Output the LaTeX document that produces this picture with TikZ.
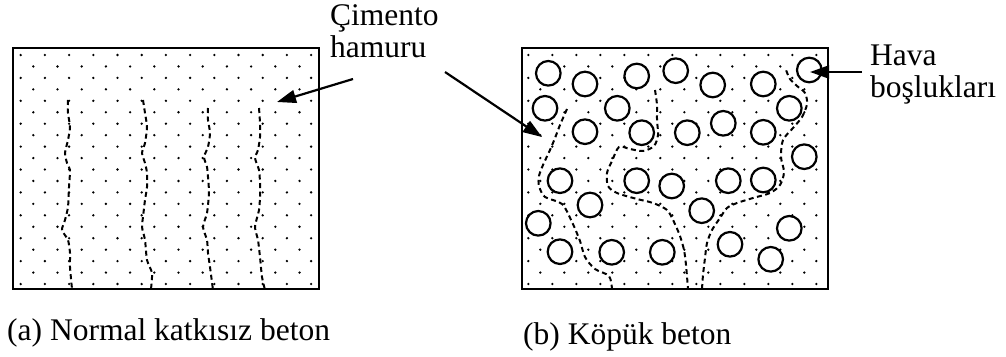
\documentclass[tikz,border=0pt]{standalone}
\usepackage{fontspec}
\setmainfont{Liberation Serif}
\usetikzlibrary{arrows.meta}
\begin{document}
\begin{tikzpicture}[x=1pt,y=-1pt,
  panel/.style={line width=2.8pt},
  void/.style={draw, line width=2.2pt, fill=white},
  crack/.style={dash pattern=on 5pt off 3.5pt, line width=2pt},
  pointer/.style={-{Triangle[length=19pt,width=13pt]}, line width=2.2pt},
  lbl/.style={font=\fontsize{31.5}{33}\selectfont, inner sep=0pt, anchor=base west},
  grain/.style={fill=black}]
\useasboundingbox (0,0) rectangle (1006,356);
% dots, left panel
\foreach \r in {0,...,10} \foreach \c in {0,...,12}
  \fill[grain] (20.7+24.2*\c, 55+22.9*\r) circle (1.3pt);
\foreach \r in {0,...,9} \foreach \c in {0,...,11}
  \fill[grain] (33.3+24.2*\c, 66.45+22.9*\r) circle (1.3pt);
% dots, right panel
\foreach \r in {0,...,10} \foreach \c in {0,...,12}
  \fill[grain] (528.3+24*\c, 55+22.9*\r) circle (1.3pt);
\foreach \r in {0,...,9} \foreach \c in {0,...,11}
  \fill[grain] (540.3+24*\c, 66.45+22.9*\r) circle (1.3pt);
% cracks left
\draw[crack] plot[smooth, tension=0.4] coordinates {(68,100) (68,113) (70,127) (68,140) (65,153) (67,163) (70,170) (69,187) (68,207) (65,220) (62,230) (68,240) (70,253) (70,267) (72,289)};
\draw[crack] plot[smooth, tension=0.4] coordinates {(143,100) (145,113) (147,127) (145,143) (142,153) (145,163) (147,173) (147,187) (145,200) (143,217) (142,227) (145,240) (147,260) (152,273) (151,289)};
\draw[crack] plot[smooth, tension=0.4] coordinates {(208,108) (208,120) (210,133) (208,147) (204,157) (207,167) (208,177) (209,193) (207,213) (203,227) (207,240) (208,253) (210,267) (213,290)};
\draw[crack] plot[smooth, tension=0.4] coordinates {(259,108) (260,123) (260,137) (258,150) (255,158) (259,170) (260,183) (260,197) (259,210) (255,227) (258,240) (260,257) (262,277) (265,290)};
% cracks right
\draw[crack] plot[smooth] coordinates {(567,109) (560,125) (555,138) (550,150) (543,165) (539,176) (539,186) (545,197) (562,204) (572,222) (580,241) (585,257) (595,269) (609,276) (612,289)};
\draw[crack] plot[smooth] coordinates {(655,90) (657,105) (657,120) (658,135) (654,146) (643,151) (630,149) (619,147) (612,161) (607,173) (608,186) (617,193) (637,199) (653,203) (667,210) (674,222) (680,236) (684,250) (686,265) (688,289)};
\draw[crack] plot[smooth] coordinates {(702,289) (703,275) (705,258) (707,243) (712,230) (720,218) (727,208) (737,203) (753,198) (770,193) (780,185) (784,172) (781,157) (783,140) (793,128) (802,117) (807,104) (805,93) (797,86) (790,79) (786,70)};
% air voids
\foreach \x/\y in {548.3/73.3, 585/84, 636.7/76, 675.7/70.7, 712.7/85, 763.3/84, 809.3/70,
  545/108.3, 617.3/108.3, 789.3/108.3, 585/131.7, 641.7/132.7, 687.3/132.7, 723.3/123.3,
  763.3/132.3, 804.3/156.7, 560/180.7, 636.7/180.7, 671.7/186, 728.3/180.7, 763.3/180,
  590/205, 701.7/210.7, 538.3/223.3, 789.3/228.3, 560/251.7, 611.7/252.3, 662.3/252.3,
  730/244.3, 770.7/259.3}
  \draw[void] (\x,\y) circle (12.3pt);
% panels
\draw[panel] (13,48) rectangle (319,289);
\draw[panel] (522,48) rectangle (828,289);
% labels
\node[lbl] (cim1) at (330,25) {Çimento};
\node[lbl] (cim2) at (330,57) {hamuru};
\node[lbl] (hava1) at (870,65) {Hava};
\node[lbl] (hava2) at (870,97) {boşlukları};
\node[lbl] (capa) at (7,340) {(a) Normal katkısız beton};
\node[lbl] (capb) at (523,344) {(b) Köpük beton};
% arrows
\coordinate (tailA) at (353,79);
\coordinate (tipA) at (277,102);
\coordinate (tailB) at (445,72);
\coordinate (tipB) at (542,137);
\coordinate (tailC) at (862,72);
\coordinate (tipC) at (810,72);
\draw[pointer] (tailA) -- (tipA);
\draw[pointer] (tailB) -- (tipB);
\draw[pointer] (tailC) -- (tipC);
\end{tikzpicture}
\end{document}
